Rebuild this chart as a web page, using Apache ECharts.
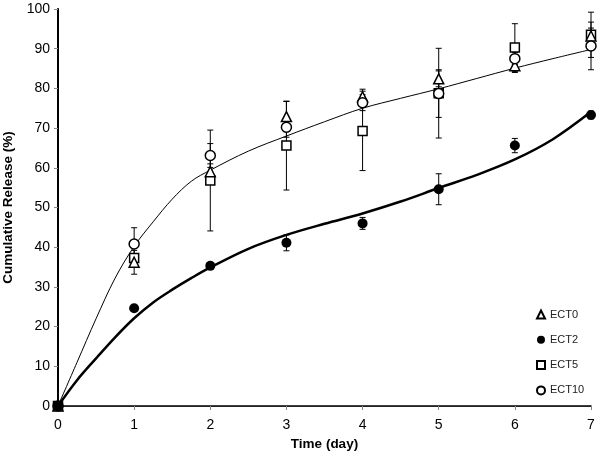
<!DOCTYPE html>
<html>
<head>
<meta charset="utf-8">
<script src="https://cdn.jsdelivr.net/npm/echarts@6/dist/echarts.min.js"></script>
<style>
html,body{margin:0;padding:0;background:#fff;}
#chart{width:601px;height:453px;}
</style>
</head>
<body>
<div id="chart"></div>
<script>
// Measured data (days)
const days = [0, 1, 2, 3, 4, 5, 6, 7];
const ect0 = [0, 36.2, 59.0, 72.9, 77.9, 82.4, 85.7, 93.2];
const ect0Err = [0, 3.0, 2.0, 3.8, 1.9, 2.0, 1.7, 2.0];
const ect2 = [0, 24.6, 35.3, 41.1, 46.0, 54.6, 65.6, 73.3];
const ect2Err = [0, 0.5, 0.8, 2.0, 1.5, 3.9, 1.8, 1.0];
const ect5 = [0, 37.3, 56.8, 65.6, 69.3, 78.8, 90.3, 93.5];
const ect5Err = [0, 1.0, 12.7, 11.2, 10.0, 11.3, 6.0, 5.7];
const ect10 = [0, 40.8, 63.1, 70.2, 76.4, 78.7, 87.5, 90.7];
const ect10Err = [0, 4.1, 3.0, 2.5, 2.0, 6.0, 1.5, 6.0];

// Trend curves
const fitX = [0, 0.25, 0.5, 0.75, 1, 1.25, 1.5, 1.75, 2, 2.5, 3, 3.5, 4, 4.5, 5, 5.5, 6, 6.5, 7];
const fastFit = [0, 11, 22, 32.2, 40.2, 46.4, 52.1, 56.6, 59.4, 64.2, 68, 71.6, 75, 77.5, 79.9, 82.5, 85.1, 87.5, 89.8];
const slowFit = [0, 6.5, 12, 17.3, 22.1, 26.1, 29.3, 32.2, 34.9, 39.6, 43.1, 45.9, 48.5, 51.5, 54.9, 58.2, 62.1, 67.2, 74.1];

const xTicks = [0, 1, 2, 3, 4, 5, 6, 7];
const yTicks = [0, 10, 20, 30, 40, 50, 60, 70, 80, 90, 100];

const FONT = 'Liberation Sans, Arial, sans-serif';

function pts(vals) { return days.map((d, i) => [d, vals[i]]); }
function errData(vals, errs) {
  const out = [];
  days.forEach((d, i) => { if (errs[i] > 0) out.push([d, vals[i] - errs[i], vals[i] + errs[i]]); });
  return out;
}
function errSeries(vals, errs) {
  return {
    type: 'custom',
    xAxisIndex: 0, yAxisIndex: 0,
    z: 3,
    silent: true,
    data: errData(vals, errs),
    renderItem: function (params, api) {
      const x = api.value(0);
      const p1 = api.coord([x, api.value(1)]);
      const p2 = api.coord([x, api.value(2)]);
      const w = 3;
      const st = { stroke: '#000', lineWidth: 1 };
      return {
        type: 'group',
        children: [
          { type: 'line', shape: { x1: p1[0], y1: p1[1], x2: p2[0], y2: p2[1] }, style: st },
          { type: 'line', shape: { x1: p1[0] - w, y1: p1[1], x2: p1[0] + w, y2: p1[1] }, style: st },
          { type: 'line', shape: { x1: p2[0] - w, y1: p2[1], x2: p2[0] + w, y2: p2[1] }, style: st }
        ]
      };
    }
  };
}

const hollow = { color: '#fff', borderColor: '#000', borderWidth: 1.5, opacity: 1 };

const chart = echarts.init(document.getElementById('chart'));
chart.setOption({
  animation: false,
  backgroundColor: '#fff',
  grid: { left: 58, right: 10, top: 9, bottom: 47, containLabel: false, outerBoundsMode: 'none' },
  legend: {
    orient: 'vertical',
    left: 531, top: 304,
    itemWidth: 8, itemHeight: 8, itemGap: 14.3,
    data: ['ECT0', 'ECT2', 'ECT5', 'ECT10'],
    textStyle: { fontFamily: FONT, fontSize: 11, color: '#222' }
  },
  xAxis: [{
    type: 'value', min: 0, max: 7, interval: 1,
    name: 'Time (day)', nameLocation: 'middle', nameGap: 29,
    nameTextStyle: { fontFamily: FONT, fontSize: 13.5, fontWeight: 'bold', color: '#000' },
    axisLine: { lineStyle: { color: '#888', width: 1 } },
    axisTick: { show: true, length: 4, inside: false, lineStyle: { color: '#888' } },
    axisLabel: { fontFamily: FONT, fontSize: 14, color: '#000', margin: 12,
      formatter: v => xTicks.includes(v) ? String(v) : '' },
    splitLine: { show: false }
  }, {
    type: 'value', min: 0, max: 7, position: 'top',
    axisLine: { show: true, lineStyle: { color: '#000', width: 1.5 } },
    axisTick: { show: false }, axisLabel: { show: false }, splitLine: { show: false }
  }],
  yAxis: [{
    type: 'value', min: 0, max: 100, interval: 10,
    name: 'Cumulative Release (%)', nameLocation: 'middle', nameGap: 43,
    nameTextStyle: { fontFamily: FONT, fontSize: 13.5, fontWeight: 'bold', color: '#000' },
    axisLine: { show: true, lineStyle: { color: '#888', width: 1 } },
    axisTick: { show: true, length: 4, inside: false, lineStyle: { color: '#888' } },
    axisLabel: { fontFamily: FONT, fontSize: 14, color: '#000', margin: 8,
      formatter: v => yTicks.includes(v) ? String(v) : '' },
    splitLine: { show: false }
  }, {
    type: 'value', min: 0, max: 100, position: 'right',
    axisLine: { show: true, lineStyle: { color: '#000', width: 2 } },
    axisTick: { show: false }, axisLabel: { show: false }, splitLine: { show: false }
  }],
  series: [
    {
      name: 'fastFit', type: 'line', smooth: 0.35, showSymbol: false, symbol: 'none', z: 2, silent: true,
      data: fitX.map((x, i) => [x, fastFit[i]]),
      lineStyle: { color: '#000', width: 1 }
    },
    {
      name: 'slowFit', type: 'line', smooth: 0.35, showSymbol: false, symbol: 'none', z: 2, silent: true,
      data: fitX.map((x, i) => [x, slowFit[i]]),
      lineStyle: { color: '#000', width: 2.5 }
    },
    errSeries(ect5, ect5Err),
    errSeries(ect0, ect0Err),
    errSeries(ect10, ect10Err),
    errSeries(ect2, ect2Err),
    { name: 'ECT5', type: 'scatter', symbol: 'rect', symbolSize: 9, z: 4, data: pts(ect5), itemStyle: hollow },
    { name: 'ECT0', type: 'scatter', symbol: 'triangle', symbolSize: 10, z: 5, data: pts(ect0), itemStyle: hollow },
    { name: 'ECT10', type: 'scatter', symbol: 'circle', symbolSize: 10, z: 6, data: pts(ect10), itemStyle: hollow },
    { name: 'ECT2', type: 'scatter', symbol: 'circle', symbolSize: 10, z: 7, data: pts(ect2), itemStyle: { color: '#000', opacity: 1 } }
  ]
});
</script>
</body>
</html>
